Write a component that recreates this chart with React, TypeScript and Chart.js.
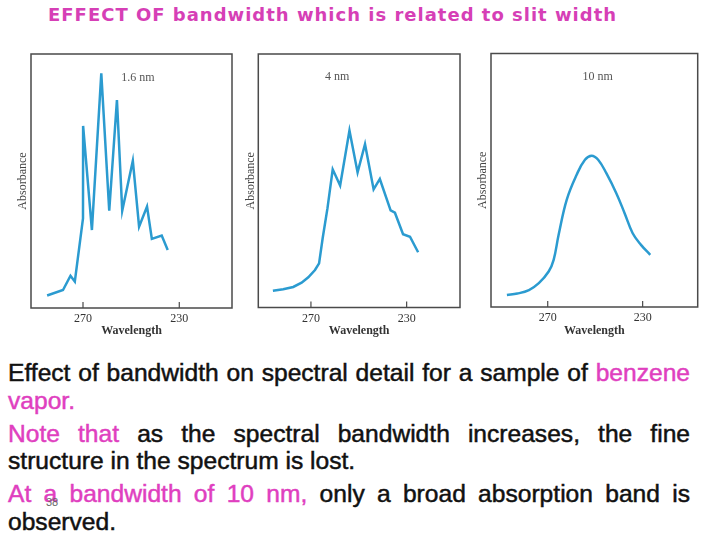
import React, { useEffect, useRef } from "react";
import { Chart, registerables } from "chart.js";
Chart.register(...registerables);

// ---- data ----
const xTickValues = [270, 230];

const wl16 = [284.9, 278.3, 275.2, 273.4, 270.0, 269.95, 266.3, 262.4, 259.1, 255.9, 253.7, 249.3, 246.7, 243.4, 241.4, 237.3, 234.8];
const abs16 = [0.049, 0.071, 0.127, 0.104, 0.353, 0.717, 0.307, 0.924, 0.383, 0.819, 0.383, 0.58, 0.32, 0.399, 0.272, 0.285, 0.228];

const wl4 = [285.9, 281.6, 277.4, 273.9, 271.1, 268.3, 266.6, 265.1, 263.1, 260.9, 257.8, 253.9, 250.5, 247.4, 243.8, 241.2, 236.7, 234.9, 231.5, 228.6, 225.2];
const abs4 = [0.066, 0.072, 0.081, 0.098, 0.119, 0.148, 0.174, 0.273, 0.391, 0.545, 0.481, 0.698, 0.533, 0.644, 0.466, 0.507, 0.383, 0.374, 0.289, 0.279, 0.218];

const wl10 = [287.2, 282.8, 277.9, 273.75, 269.6, 267.5, 265.4, 262.0, 257.8, 254.3, 251.5, 248.75, 245.3, 241.1, 237.6, 234.2, 230.7, 226.8];
const abs10 = [0.047, 0.053, 0.067, 0.094, 0.14, 0.186, 0.285, 0.423, 0.522, 0.581, 0.597, 0.581, 0.528, 0.449, 0.37, 0.291, 0.245, 0.206];

const panelLabels = ["1.6 nm", "4 nm", "10 nm"];
const labelWl = [247.2, 259.0, 248.9];
const labelAbs = [0.907, 0.908, 0.908];

const LINE = "#2b9bd0";
const FRAME = "#4a4a4a";
const SERIF = "'Liberation Serif', 'DejaVu Serif', serif";

type PanelCfg = {
  left: number; top: number; w: number; h: number;
  xMin: number; xMax: number;
  yW: number; xH: number; padTop: number; padRight: number;
  yTitlePad: number; xTitlePad: number;
  wl: number[]; abs: number[]; tension: number;
  label: string; lx: number; ly: number;
};

const panels: PanelCfg[] = [
  { left: 10, top: 45, w: 230, h: 300, xMin: 208.1, xMax: 291.6, yW: 21, xH: 37, padTop: 9, padRight: 8, yTitlePad: 6.1, xTitlePad: 6.8, wl: wl16, abs: abs16, tension: 0, label: panelLabels[0], lx: labelWl[0], ly: labelAbs[0] },
  { left: 240, top: 45, w: 230, h: 300, xMin: 207.7, xMax: 292.0, yW: 18.3, xH: 37.5, padTop: 9, padRight: 10, yTitlePad: 3.8, xTitlePad: 6.8, wl: wl4, abs: abs4, tension: 0, label: panelLabels[1], lx: labelWl[1], ly: labelAbs[1] },
  { left: 470, top: 45, w: 240, h: 300, xMin: 206.8, xMax: 293.9, yW: 21, xH: 38, padTop: 8.5, padRight: 12.3, yTitlePad: 5.8, xTitlePad: 6.8, wl: wl10, abs: abs10, tension: 0.4, label: panelLabels[2], lx: labelWl[2], ly: labelAbs[2] },
];

function Panel({ cfg }: { cfg: PanelCfg }) {
  const ref = useRef<HTMLCanvasElement | null>(null);
  useEffect(() => {
    if (!ref.current) return;
    const framePlugin = {
      id: "frame",
      afterDraw(chart: any) {
        const { ctx, chartArea } = chart;
        const xs = chart.scales.x;
        const ys = chart.scales.y;
        ctx.save();
        ctx.strokeStyle = FRAME;
        ctx.lineWidth = 1.5;
        ctx.strokeRect(chartArea.left, chartArea.top, chartArea.right - chartArea.left, chartArea.bottom - chartArea.top);
        ctx.lineWidth = 1.2;
        xTickValues.forEach((v) => {
          const px = xs.getPixelForValue(v);
          ctx.beginPath();
          ctx.moveTo(px, chartArea.bottom);
          ctx.lineTo(px, chartArea.bottom - 6);
          ctx.stroke();
        });
        ctx.fillStyle = "#555";
        ctx.font = "12px " + SERIF;
        ctx.textAlign = "center";
        ctx.textBaseline = "middle";
        ctx.fillText(cfg.label, xs.getPixelForValue(cfg.lx), ys.getPixelForValue(cfg.ly));
        ctx.restore();
      },
    };
    const chart = new Chart(ref.current, {
      type: "line",
      data: {
        datasets: [
          {
            data: cfg.wl.map((x, i) => ({ x, y: cfg.abs[i] })),
            borderColor: LINE,
            borderWidth: 2.5,
            pointRadius: 0,
            tension: cfg.tension,
            fill: false,
          },
        ],
      },
      options: {
        responsive: false,
        animation: false,
        layout: { padding: { top: cfg.padTop, right: cfg.padRight, left: 0, bottom: 0 } },
        plugins: { legend: { display: false }, tooltip: { enabled: false } },
        scales: {
          x: {
            type: "linear",
            reverse: true,
            min: cfg.xMin,
            max: cfg.xMax,
            afterBuildTicks: (s: any) => {
              s.ticks = xTickValues.map((v) => ({ value: v }));
            },
            afterFit: (s: any) => {
              s.height = cfg.xH;
            },
            grid: { display: false, drawTicks: false },
            border: { display: false },
            ticks: {
              autoSkip: false,
              maxRotation: 0,
              padding: 4,
              color: "#333",
              font: { family: SERIF, size: 12 },
              callback: (v: any) => String(v),
            },
            title: {
              display: true,
              text: "Wavelength",
              color: "#333",
              font: { family: SERIF, size: 12, weight: "bold" },
              padding: { top: 0, bottom: cfg.xTitlePad },
            },
          },
          y: {
            type: "linear",
            min: 0,
            max: 1,
            afterFit: (s: any) => {
              s.width = cfg.yW;
            },
            grid: { display: false, drawTicks: false },
            border: { display: false },
            ticks: { display: false },
            title: {
              display: true,
              text: "Absorbance",
              color: "#444",
              font: { family: SERIF, size: 12 },
              padding: { top: cfg.yTitlePad, bottom: 0 },
            },
          },
        },
      },
      plugins: [framePlugin],
    } as any);
    return () => chart.destroy();
  }, [cfg]);
  return (
    <canvas
      ref={ref}
      width={cfg.w}
      height={cfg.h}
      style={{ position: "absolute", left: cfg.left, top: cfg.top, width: cfg.w, height: cfg.h }}
    />
  );
}

const PINK = "#e03fbf";

export default function App() {
  const body: React.CSSProperties = {
    position: "absolute",
    left: 8,
    top: 359,
    width: 682,
    fontFamily: "'Liberation Sans', Arial, sans-serif",
    fontSize: 24.6,
    lineHeight: "27.5px",
    color: "#111",
    textAlign: "justify",
    WebkitTextStroke: "0.5px",
  };
  const p: React.CSSProperties = { margin: 0, marginBottom: 5.5 };
  return (
    <div style={{ position: "absolute", left: 0, top: 0, width: 720, height: 540, background: "#fff", overflow: "hidden" }}>
      <div
        style={{
          position: "absolute",
          left: 48,
          top: 4,
          height: 22,
          lineHeight: "22px",
          fontFamily: "'DejaVu Sans', sans-serif",
          fontWeight: "bold",
          fontSize: 18,
          letterSpacing: 1,
          color: "#d63fb6",
          whiteSpace: "nowrap",
        }}
      >
        EFFECT OF bandwidth which is related to slit width
      </div>
      {panels.map((c, i) => (
        <Panel key={i} cfg={c} />
      ))}
      <div style={body}>
        <p style={p}>
          Effect of bandwidth on spectral detail for a sample of <span style={{ color: PINK }}>benzene vapor.</span>
        </p>
        <p style={p}>
          <span style={{ color: PINK }}>Note that</span> as the spectral bandwidth increases, the fine structure in the spectrum is lost.
        </p>
        <p style={p}>
          <span style={{ color: PINK }}>At a bandwidth of 10 nm,</span> only a broad absorption band is observed.
        </p>
      </div>
      <div style={{ position: "absolute", left: 46, top: 496, fontFamily: "'Liberation Sans', Arial, sans-serif", fontSize: 11, color: "#666" }}>
        38
      </div>
    </div>
  );
}
